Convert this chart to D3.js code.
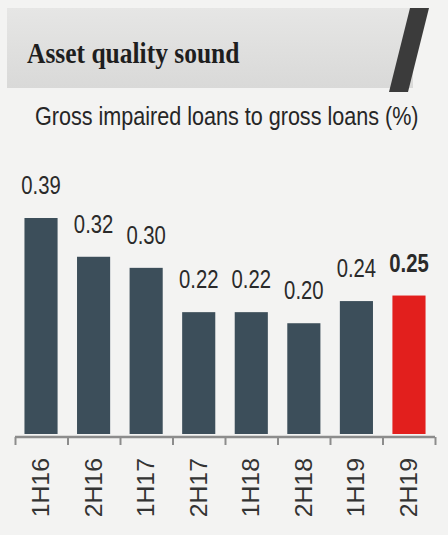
<!DOCTYPE html>
<html>
<head>
<meta charset="utf-8">
<script src="https://cdn.jsdelivr.net/npm/d3@7"></script>
<style>
  html, body { margin: 0; padding: 0; background: #f3f3f2; }
  #chart { width: 448px; height: 535px; }
</style>
</head>
<body>
<div id="chart"></div>
<script>
// data
const periods = ["1H16", "2H16", "1H17", "2H17", "1H18", "2H18", "1H19", "2H19"];
const ratios = [0.39, 0.32, 0.30, 0.22, 0.22, 0.20, 0.24, 0.25];
const highlight = ["2H19"];

const title = "Asset quality sound";
const subtitle = "Gross impaired loans to gross loans (%)";

const width = 448;
const height = 535;

const svg = d3.select("#chart")
  .append("svg")
  .attr("width", width)
  .attr("height", height);

// squeeze a text horizontally (the source uses condensed faces)
function squeeze(sel, factor, anchorX) {
  sel.each(function () {
    const t = d3.select(this);
    const cx = anchorX(t);
    t.attr("transform", "translate(" + cx + ",0) scale(" + factor + ",1) translate(" + (-cx) + ",0)");
  });
}

// header band

const defs = svg.append("defs");
const grad = defs.append("linearGradient")
  .attr("id", "band")
  .attr("x1", 0).attr("x2", 0).attr("y1", 0).attr("y2", 1);
grad.append("stop").attr("offset", "0%").attr("stop-color", "#e6e6e5");
grad.append("stop").attr("offset", "100%").attr("stop-color", "#d9d9d8");

svg.append("rect")
  .attr("x", 7).attr("y", 8)
  .attr("width", 406).attr("height", 80)
  .attr("fill", "url(#band)");

svg.append("path")
  .attr("d", "M410,8 L429,8 L408,92 L389,92 Z")
  .attr("fill", "#3b3b3b");

svg.append("text")
  .attr("x", 27).attr("y", 63)
  .attr("font-family", "'Liberation Serif', 'DejaVu Serif', serif")
  .attr("font-weight", "bold")
  .attr("font-size", 30)
  .attr("fill", "#1e1e1e")
  .text(title)
  .call(squeeze, 0.85, () => 27);

svg.append("text")
  .attr("x", 35).attr("y", 125)
  .attr("font-family", "'Liberation Sans', Arial, sans-serif")
  .attr("font-size", 26)
  .attr("fill", "#262626")
  .text(subtitle)
  .call(squeeze, 0.83, () => 35);

// scales

const x = d3.scaleBand()
  .domain(periods)
  .range([15, 435])
  .paddingInner(0.37)
  .paddingOuter(0.18);

const y = d3.scaleLinear()
  .domain([0, 0.39])
  .range([434, 218]);

// bars

const g = svg.append("g")
  .selectAll("g")
  .data(periods.map((p, i) => ({ period: p, value: ratios[i] })))
  .join("g");

g.append("rect")
  .attr("x", d => x(d.period))
  .attr("y", d => y(d.value))
  .attr("width", x.bandwidth())
  .attr("height", d => y(0) - y(d.value))
  .attr("fill", d => highlight.includes(d.period) ? "#e21f1d" : "#3c4e5a");

g.append("text")
  .attr("x", d => x(d.period) + x.bandwidth() / 2)
  .attr("y", d => y(d.value) - 24)
  .attr("text-anchor", "middle")
  .attr("font-family", "'Liberation Sans', Arial, sans-serif")
  .attr("font-size", 26)
  .attr("font-weight", d => highlight.includes(d.period) ? "bold" : "normal")
  .attr("fill", "#2a2a2a")
  .text(d => d.value.toFixed(2))
  .call(squeeze, 0.78, t => +t.attr("x"));

// axis

const axisScale = d3.scalePoint().domain(d3.range(periods.length + 1)).range([15, 435]);

const axis = svg.append("g")
  .attr("transform", "translate(0,437)")
  .call(d3.axisBottom(axisScale).tickSize(8).tickFormat(""));

axis.select(".domain")
  .attr("d", "M15,0H435")
  .attr("stroke", "#8c8c8c")
  .attr("stroke-width", 2.5);
axis.selectAll(".tick line")
  .attr("stroke", "#8c8c8c")
  .attr("stroke-width", 2);

svg.append("g")
  .selectAll("text")
  .data(periods)
  .join("text")
  .attr("transform", d => "translate(" + (x(d) + x.bandwidth() / 2 + 8) + ",458) rotate(-90) scale(1.08,1)")
  .attr("text-anchor", "end")
  .attr("font-family", "'Liberation Sans', Arial, sans-serif")
  .attr("font-size", 23)
  .attr("fill", "#333")
  .text(d => d);
</script>
</body>
</html>
